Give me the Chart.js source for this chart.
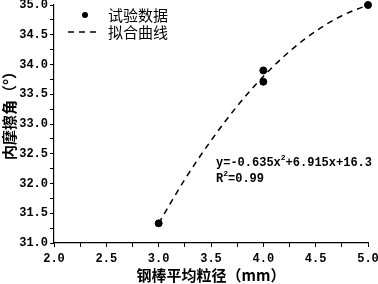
<!DOCTYPE html>
<html><head><meta charset="utf-8">
<script src="https://cdn.jsdelivr.net/npm/chart.js@4"></script>
<style>html,body{margin:0;padding:0;background:#fff}#w{width:378px;height:284px}</style>
</head><body><div id="w"><canvas id="c" width="378" height="284"></canvas></div>
<script>
const dataX = [3.0, 4.0, 4.0, 5.0];
const dataY = [31.33, 33.9, 33.71, 35.0];
const fitX = [3.0, 3.25, 3.5, 3.75, 4.0, 4.25, 4.5, 4.75, 5.0];
const fitY = [31.33, 32.07, 32.72, 33.30, 33.80, 34.22, 34.56, 34.82, 35.0];
const legendLabels = ["试验数据", "拟合曲线"];
const equationText = ["y=-0.635x", "+6.915x+16.3"];
const r2Text = "=0.99";
const xTitle = "钢棒平均粒径（mm）";
const yTitle = "内摩擦角（°）";

const monoFam = "'Liberation Mono','DejaVu Sans Mono',monospace";
const numFont = "bold 12px " + monoFam;
const supFont = "bold 8px " + monoFam;

const overlay = {
  id: 'overlay',
  afterDraw(chart) {
    const ctx = chart.ctx;
    ctx.save();
    ctx.fillStyle = '#000'; ctx.strokeStyle = '#000';
    // legend
    ctx.beginPath(); ctx.arc(85, 15, 3, 0, Math.PI * 2); ctx.fill();
    ctx.lineWidth = 1.5; ctx.setLineDash([6, 5]);
    ctx.beginPath(); ctx.moveTo(68, 32); ctx.lineTo(101, 32); ctx.stroke();
    ctx.setLineDash([]);
    ctx.font = "15px 'Noto Sans CJK SC',sans-serif";
    ctx.textBaseline = 'middle'; ctx.textAlign = 'left';
    ctx.fillText(legendLabels[0], 108, 15);
    ctx.fillText(legendLabels[1], 108, 32);
    // equation
    ctx.font = numFont;
    let x = 216, y = 163;
    ctx.fillText(equationText[0], x, y);
    x += ctx.measureText(equationText[0]).width;
    ctx.font = supFont;
    ctx.fillText("2", x, y - 5);
    x += ctx.measureText("2").width;
    ctx.font = numFont;
    ctx.fillText(equationText[1], x, y);
    x = 216; y = 179;
    ctx.fillText("R", x, y);
    x += ctx.measureText("R").width;
    ctx.font = supFont;
    ctx.fillText("2", x, y - 5);
    x += ctx.measureText("2").width;
    ctx.font = numFont;
    ctx.fillText(r2Text, x, y);
    // y title
    ctx.translate(9, 112);
    ctx.rotate(-Math.PI / 2);
    ctx.textAlign = 'center';
    ctx.font = "bold 15px 'Noto Sans CJK SC',sans-serif";
    ctx.fillText(yTitle, 0, 0);
    ctx.restore();
  }
};

new Chart(document.getElementById('c'), {
  type: 'scatter',
  data: {
    datasets: [
      {
        type: 'line',
        data: fitX.map((v, i) => ({x: v, y: fitY[i]})),
        borderColor: '#000', borderWidth: 1.5, borderDash: [6, 5],
        pointRadius: 0, cubicInterpolationMode: 'monotone', fill: false, clip: false
      },
      {
        data: dataX.map((v, i) => ({x: v, y: dataY[i]})),
        backgroundColor: '#000', borderColor: '#000', pointRadius: 3.5, clip: false
      }
    ]
  },
  options: {
    responsive: false, animation: false,
    layout: {padding: {top: 4, right: 10, left: 0, bottom: 0}},
    plugins: {legend: {display: false}, tooltip: {enabled: false}},
    scales: {
      x: {
        type: 'linear', min: 2, max: 5,
        afterFit(s) { s.height = 41; s.paddingRight = 0; s.paddingLeft = 0; },
        ticks: {stepSize: 0.25, autoSkip: false, maxRotation: 0, color: '#000', padding: 5,
          font: {family: monoFam, size: 12, weight: 'bold'},
          callback: v => (Math.abs(v * 2 - Math.round(v * 2)) < 1e-6) ? v.toFixed(1) : ''},
        grid: {display: true, drawOnChartArea: false, drawTicks: true, tickLength: 4, color: '#000'},
        border: {display: true, color: '#000', width: 1.2},
        title: {display: true, text: xTitle, color: '#000', padding: {top: 3, bottom: 0},
          font: {family: "'Noto Sans CJK SC',sans-serif", size: 15, weight: 'bold'}}
      },
      y: {
        min: 31, max: 35,
        afterFit(s) { s.width = 54; s.paddingTop = 0; s.paddingBottom = 0; },
        ticks: {stepSize: 0.25, autoSkip: false, color: '#000', padding: 2,
          font: {family: monoFam, size: 12, weight: 'bold'},
          callback: v => (Math.abs(v * 2 - Math.round(v * 2)) < 1e-6) ? v.toFixed(1) : ''},
        grid: {display: true, drawOnChartArea: false, drawTicks: true, tickLength: 4, color: '#000'},
        border: {display: true, color: '#000', width: 1.2},
        title: {display: false}
      }
    }
  },
  plugins: [overlay]
});
</script>
</body></html>
